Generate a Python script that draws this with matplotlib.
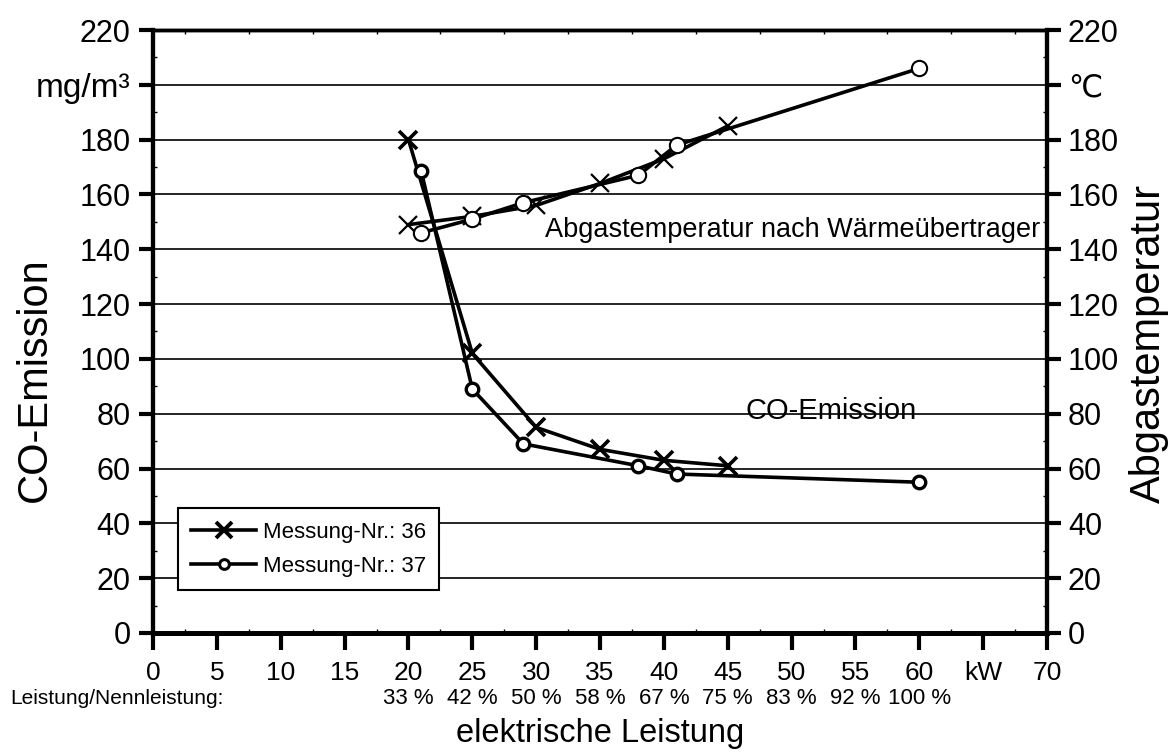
"""CO-Emission und Abgastemperatur ueber der elektrischen Leistung."""

import matplotlib.pyplot as plt
from matplotlib.lines import Line2D
from matplotlib.ticker import MultipleLocator
import matplotlib.transforms as mtransforms

plt.rcParams['font.family'] = ['Liberation Sans', 'DejaVu Sans']

# Messung 36
kw_36 = [20, 25, 30, 35, 40, 45]
co_36 = [180, 102, 75, 67, 63, 61]
temp_36 = [149, 152, 156, 164, 173, 185]

# Messung 37
kw_37 = [21, 25, 29, 38, 41, 60]
co_37 = [168.5, 89, 69, 61, 58, 55]
temp_37 = [146, 151, 157, 167, 178, 206]

# axis labels
x_ticks = [0, 5, 10, 15, 20, 25, 30, 35, 40, 45, 50, 55, 60, 65, 70]
x_ticklabels = ['0', '5', '10', '15', '20', '25', '30', '35', '40', '45',
                '50', '55', '60', 'kW', '70']
y_ticks = [0, 20, 40, 60, 80, 100, 120, 140, 160, 180, 200, 220]
y_left_labels = ['0', '20', '40', '60', '80', '100', '120', '140', '160',
                 '180', 'mg/m³', '220']
y_right_labels = ['0', '20', '40', '60', '80', '100', '120', '140', '160',
                  '180', '℃', '220']
nenn_kw = [20, 25, 30, 35, 40, 45, 50, 55, 60]
nenn_labels = ['33 %', '42 %', '50 %', '58 %', '67 %', '75 %', '83 %',
               '92 %', '100 %']

narrow = ['Liberation Sans Narrow', 'Liberation Sans', 'DejaVu Sans']


def style_axis(ax):
  for side in ['left', 'right']:
    ax.spines[side].set_linewidth(3)
  ax.spines['bottom'].set_linewidth(3.5)
  ax.spines['top'].set_linewidth(2.5)
  ax.tick_params(which='major', direction='out', length=10, width=3,
                 labelsize=22)
  ax.tick_params(which='minor', direction='in', length=3, width=1)


def main():
  fig = plt.figure(figsize=(11.7, 7.54), dpi=100)
  ax = fig.add_axes([0.1308, 0.1605, 0.7641, 0.7997])
  ax2 = ax.twinx()

  for a in (ax, ax2):
    a.set_xlim(0, 70)
    a.set_ylim(0, 220)
    a.set_yticks(y_ticks)
    a.yaxis.set_minor_locator(MultipleLocator(10))
    style_axis(a)
  ax.set_yticklabels(y_left_labels)
  ax2.set_yticklabels(y_right_labels)
  ax.tick_params(axis='y', which='major', pad=6, right=False)
  ax2.tick_params(axis='y', which='major', pad=5, left=False)
  ax.get_yticklabels()[10].set_fontsize(24)

  ax.set_xticks(x_ticks)
  ax.set_xticklabels(x_ticklabels)
  ax.xaxis.set_minor_locator(MultipleLocator(2.5))
  ax.tick_params(axis='x', which='major', pad=8, length=12, labelsize=19)
  ax.tick_params(axis='x', which='minor', top=True)

  # horizontal grid
  for y in y_ticks[1:-1]:
    ax.axhline(y, color='black', linewidth=1.2, zorder=1)

  # CO-Emission (left axis)
  ax.plot(kw_36, co_36, color='black', linewidth=2.6, marker='x',
          markersize=13, markeredgewidth=2.6, zorder=3)
  ax.plot(kw_37, co_37, color='black', linewidth=2.6, marker='o',
          markersize=9, markeredgewidth=2.4, markerfacecolor='white',
          zorder=3)

  # Abgastemperatur (right axis)
  ax2.plot(kw_36, temp_36, color='black', linewidth=2.6, marker='x',
           markersize=13, markeredgewidth=1.6, zorder=3)
  ax2.plot(kw_37, temp_37, color='black', linewidth=2.6, marker='o',
           markersize=11, markeredgewidth=1.5, markerfacecolor='white',
           zorder=3)

  ax.text(69.5, 147, 'Abgastemperatur nach Wärmeübertrager', fontsize=19.5,
          ha='right', va='center', zorder=4)
  ax.text(46.4, 81, 'CO-Emission', fontsize=21, ha='left', va='center',
          zorder=4)

  handles = [Line2D([], [], color='black', linewidth=2.6, marker='x',
                    markersize=12, markeredgewidth=2.8),
             Line2D([], [], color='black', linewidth=2.6, marker='o',
                    markersize=7, markeredgewidth=2.2,
                    markerfacecolor='white')]
  leg = ax2.legend(handles, ['Messung-Nr.: 36', 'Messung-Nr.: 37'],
                   loc='upper left', bbox_to_anchor=(0.028, 0.207),
                   borderaxespad=0, fancybox=False, framealpha=1,
                   edgecolor='black', handlelength=2.9, handletextpad=0.3,
                   borderpad=0.6, labelspacing=0.6,
                   prop={'family': narrow, 'size': 16})
  leg.get_frame().set_linewidth(1.5)
  leg.set_zorder(5)

  # Leistung/Nennleistung row under the x tick labels
  trans = mtransforms.blended_transform_factory(ax.transData, fig.transFigure)
  for kw, lab in zip(nenn_kw, nenn_labels):
    ax.text(kw, 0.073, lab, transform=trans, ha='center', va='center',
            fontsize=16, family=narrow)
  fig.text(0.009, 0.073, 'Leistung/Nennleistung:', ha='left', va='center',
           fontsize=15, family=narrow)

  fig.text(0.513, 0.027, 'elektrische Leistung', ha='center', va='center',
           fontsize=23.5)
  fig.text(0.030, 0.496, 'CO-Emission', rotation=90, ha='center',
           va='center', fontsize=30)
  fig.text(0.982, 0.545, 'Abgastemperatur', rotation=90, ha='center',
           va='center', fontsize=30)

  fig.savefig('out.png', dpi=100)


if __name__ == "__main__":
  main()
